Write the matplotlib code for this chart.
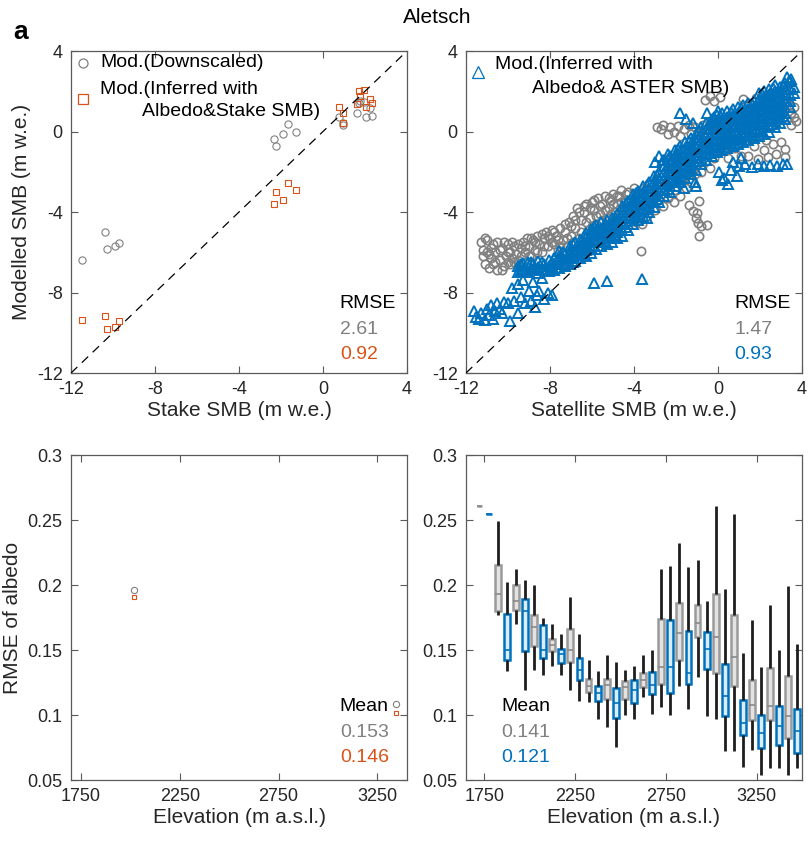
import matplotlib
matplotlib.use("Agg")
import matplotlib.pyplot as plt

plt.rcParams['font.family'] = ['Liberation Sans', 'DejaVu Sans']
plt.rcParams['axes.unicode_minus'] = False

GRAY = '#808080'
ORANGE = '#D95319'
BLUE = '#0072BD'
INK = '#262626'
FRAME = '#5a5a5a'

# ---- stake comparison (m w.e.) ----
stake_smb = [-11.48, -10.37, -10.28, -9.91, -9.71, -2.34, -2.24, -1.90, -1.66, -1.29,
             0.78, 0.93, 0.97, 1.60, 1.73, 1.78, 1.97, 2.05, 2.25, 2.33]
stake_down = [-6.37, -4.98, -5.86, -5.70, -5.55, -0.38, -0.72, -0.10, 0.38, -0.02,
              0.74, 0.34, 0.40, 0.94, 1.44, 1.50, 1.49, 0.71, 1.15, 0.79]
stake_inf = [-9.39, -9.15, -9.82, -9.72, -9.40, -3.61, -3.03, -3.40, -2.55, -2.93,
             1.20, 0.41, 0.91, 1.35, 2.03, 1.78, 2.05, 1.24, 1.62, 1.40]
stake_rmse = ['2.61', '0.92']

# ---- satellite comparison: downscaled model (x = ASTER SMB, y = modelled) ----
down_pts = [
    (-11.3, -5.5), (-11.2, -6.2), (-11.1, -6.6), (-11.0, -5.4), (-11.0, -6.0), (-10.9, -6.8),
    (-10.8, -6.3), (-10.7, -5.6), (-10.7, -6.6), (-10.6, -6.0), (-10.5, -6.9), (-10.5, -5.5),
    (-10.4, -6.4), (-10.3, -5.8), (-10.2, -6.7), (-10.1, -6.2), (-10.0, -5.6), (-10.0, -6.5),
    (-9.9, -6.0), (-9.8, -6.3), (-9.7, -5.7), (-9.6, -6.1), (-9.5, -6.4), (-9.4, -5.8),
    (-9.3, -5.5), (-9.2, -6.0), (-9.1, -5.3), (-9.0, -5.7), (-8.9, -6.2), (-8.8, -5.4),
    (-8.7, -5.9), (-8.6, -5.2), (-8.5, -5.6), (-8.4, -6.0), (-8.3, -5.3), (-8.2, -5.0),
    (-8.1, -5.7), (-8.0, -5.3), (-7.9, -4.9), (-7.8, -5.6), (-7.7, -5.2), (-7.6, -5.9),
    (-7.5, -4.8), (-7.4, -5.4), (-7.3, -5.0), (-7.2, -5.7), (-7.1, -4.5), (-7.0, -5.2),
    (-6.9, -4.2), (-6.8, -4.8), (-6.7, -3.8), (-6.6, -5.3), (-6.5, -4.4), (-6.4, -4.0),
    (-6.3, -3.6), (-6.2, -4.9), (-6.1, -4.3), (-6.0, -3.5), (-5.9, -3.9), (-5.8, -4.6),
    (-5.7, -3.3), (-5.6, -4.1), (-5.5, -3.6), (-5.4, -3.2), (-5.3, -4.3), (-5.2, -3.8),
    (-5.1, -3.4), (-5.0, -3.1), (-4.9, -4.0), (-4.8, -3.6), (-4.7, -3.2), (-4.6, -2.9),
    (-4.5, -3.8), (-4.4, -3.4), (-4.3, -3.0), (-4.2, -4.2), (-4.1, -3.6), (-4.0, -2.8),
    (-11.2, -5.9), (-11.1, -5.3), (-10.9, -6.1), (-10.8, -5.8), (-10.6, -6.5), (-10.4, -5.9),
    (-10.3, -6.9), (-10.2, -5.5), (-10.0, -6.0), (-9.9, -6.6), (-9.8, -5.5), (-9.7, -6.5),
    (-9.5, -5.6), (-9.4, -6.2), (-9.2, -5.7), (-9.0, -6.2), (-8.9, -5.3), (-8.7, -5.5),
    (-8.6, -6.0), (-8.4, -5.1), (-8.3, -5.7), (-8.1, -5.2), (-7.9, -5.5), (-7.8, -5.0),
    (-7.6, -5.4), (-7.5, -5.7), (-7.3, -4.6), (-7.2, -5.3), (-7.0, -4.7), (-6.9, -5.5),
    (-6.8, -4.4), (-6.6, -4.0), (-6.5, -5.0), (-6.4, -3.7), (-6.3, -4.5), (-6.1, -3.8),
    (-6.0, -4.7), (-5.9, -3.4), (-5.8, -4.2), (-5.6, -3.7), (-5.5, -4.4), (-5.4, -3.9),
    (-5.2, -3.3), (-5.1, -4.1), (-5.0, -3.6), (-4.8, -3.2), (-4.7, -4.2), (-4.6, -3.5),
    (-4.4, -3.1), (-4.2, -3.7),
    (-3.9, -4.5), (-3.8, -3.3), (-3.6, -4.6), (-3.5, -2.8), (-3.4, -4.2), (-3.2, -3.6),
    (-3.0, -3.9), (-2.9, -2.6), (-2.8, -3.4), (-2.6, -3.7), (-2.5, -2.9), (-2.4, -3.3),
    (-2.2, -2.5), (-2.1, -3.5), (-2.0, -2.9), (-1.8, -3.2), (-1.7, -2.4), (-1.5, -2.8),
    (-1.4, -1.9), (-1.3, -2.5), (-1.1, -2.1), (-1.0, -1.6), (-0.8, -2.0), (-0.6, -1.5),
    (-0.4, -1.8), (-0.2, -1.3), (-2.4, -1.4), (-2.1, -1.8), (-1.8, -1.5), (-1.5, -2.1),
    (-2.9, 0.2), (-2.7, 0.1), (-2.6, 0.3), (-2.4, -0.1), (-2.3, 0.2), (-2.1, 0.0),
    (-1.9, 0.25), (-1.8, -0.2), (-1.6, 0.1), (-1.4, 0.3), (-1.3, -0.1), (-1.1, 0.2),
    (-0.9, 0.0), (-0.7, 0.3), (-0.5, -0.2), (-0.3, 0.1), (-0.1, 0.3), (0.1, -0.1),
    (0.3, 0.2), (0.5, 0.0), (0.7, 0.3), (0.9, -0.2), (1.1, 0.1), (1.3, 0.2),
    (-0.6, 1.55), (-0.4, 1.75), (-0.2, 1.5), (0.1, 1.7), (1.2, 1.6), (1.5, 1.4),
    (1.8, 1.65), (2.1, 1.5), (2.4, 1.7), (2.6, 1.35), (2.9, 1.6), (3.2, 1.45),
    (3.4, 1.3), (3.5, 0.9), (3.6, 1.2), (3.3, 0.6), (3.7, 0.5), (3.5, 0.3),
    (3.0, 0.8), (3.6, 0.7), (0.2, -0.9), (0.5, -1.3), (0.8, -0.8), (1.1, -1.2),
    (1.44, -1.2), (1.7, -0.7), (1.92, -1.37), (2.2, -0.9), (2.4, -1.29), (2.6, -0.6),
    (2.78, -1.12), (3.0, -0.5), (3.2, -0.87), (3.2, -1.29), (2.3, -0.4), (1.5, -0.3),
    (-1.38, -3.67), (-0.9, -3.43), (-1.05, -4.3), (-0.8, -4.7), (-0.52, -4.66), (-0.9, -5.2),
    (-3.67, -5.95), (-1.2, -3.95), (-1.0, -4.05), (-0.95, -4.55),
    (0.5, 0.6), (1.0, 0.8), (2.0, 1.0), (2.5, 1.9), (3.0, 2.0), (-0.5, -0.6),
]

# ---- satellite comparison: albedo & ASTER inferred model ----
# main band, one entry per ASTER SMB value with the modelled values seen there
aster_band = [
    (-9.5, [-7.0, -6.7]), (-9.3, [-6.85, -6.55]), (-9.05, [-7.0, -6.75, -6.5]),
    (-8.8, [-6.9, -6.6]), (-8.55, [-7.05, -6.75, -6.45]), (-8.3, [-6.9, -6.6]),
    (-8.05, [-6.95, -6.7, -6.4]), (-7.8, [-6.9, -6.6, -6.3]),
    (-7.55, [-6.8, -6.5, -6.2, -5.95]), (-7.3, [-6.7, -6.4, -6.1]),
    (-7.05, [-6.6, -6.3, -6.0, -5.7]), (-6.8, [-6.45, -6.15, -5.85, -5.5]),
    (-6.55, [-6.3, -6.0, -5.7, -5.4]), (-6.3, [-6.2, -5.9, -5.6, -5.3, -5.05]),
    (-6.05, [-6.05, -5.75, -5.45, -5.1, -4.85]), (-5.8, [-5.85, -5.5, -5.2, -4.9, -4.65]),
    (-5.55, [-5.7, -5.4, -5.1, -4.8, -4.5]), (-5.3, [-5.6, -5.3, -5.0, -4.7, -4.4]),
    (-5.05, [-5.5, -5.2, -4.9, -4.6, -4.3]), (-4.8, [-5.3, -5.0, -4.7, -4.4, -4.1]),
    (-4.55, [-5.2, -4.9, -4.6, -4.3, -4.0, -3.7]), (-4.3, [-4.9, -4.6, -4.3, -4.0, -3.7, -3.45]),
    (-4.05, [-4.6, -4.3, -4.0, -3.7, -3.4, -3.1]), (-3.8, [-4.4, -4.1, -3.8, -3.5, -3.2, -2.95]),
    (-3.55, [-4.2, -3.9, -3.6, -3.3, -3.0, -2.7]), (-3.3, [-4.0, -3.7, -3.4, -3.1, -2.8, -2.5]),
    (-3.05, [-3.75, -3.45, -3.1, -2.8, -2.5, -2.2]), (-2.8, [-3.5, -3.2, -2.9, -2.6, -2.3, -2.0]),
    (-2.55, [-3.2, -2.9, -2.6, -2.3, -2.0, -1.7, -1.4]),
    (-2.3, [-3.0, -2.7, -2.4, -2.1, -1.8, -1.5, -1.2]),
    (-2.05, [-2.7, -2.4, -2.1, -1.8, -1.5, -1.2, -0.9]),
    (-1.8, [-2.5, -2.2, -1.9, -1.6, -1.3, -1.0, -0.7]),
    (-1.55, [-2.3, -2.0, -1.7, -1.4, -1.1, -0.8, -0.5]),
    (-1.3, [-2.1, -1.8, -1.5, -1.2, -0.9, -0.6, -0.3]),
    (-1.05, [-1.9, -1.6, -1.3, -1.0, -0.7, -0.4, -0.1]),
    (-0.8, [-1.6, -1.3, -1.0, -0.7, -0.4, -0.1, 0.2]),
    (-0.55, [-1.4, -1.1, -0.8, -0.5, -0.2, 0.1, 0.4]),
    (-0.3, [-1.2, -0.9, -0.6, -0.3, 0.0, 0.3, 0.6]),
    (-0.05, [-1.0, -0.7, -0.4, -0.1, 0.2, 0.5, 0.8]),
    (0.2, [-0.9, -0.6, -0.3, 0.0, 0.3, 0.6, 0.9]),
    (0.45, [-0.8, -0.5, -0.2, 0.1, 0.4, 0.7, 1.0]),
    (0.7, [-0.7, -0.4, -0.1, 0.2, 0.5, 0.8, 1.1]),
    (0.95, [-0.6, -0.3, 0.0, 0.3, 0.6, 0.9, 1.2]),
    (1.2, [-0.5, -0.2, 0.1, 0.4, 0.7, 1.0, 1.3]),
    (1.45, [-0.4, -0.1, 0.2, 0.5, 0.8, 1.1, 1.4]),
    (1.7, [-0.3, 0.0, 0.3, 0.6, 0.9, 1.2, 1.5]),
    (1.95, [-0.2, 0.1, 0.4, 0.7, 1.0, 1.3, 1.6, 1.9]),
    (2.2, [-0.1, 0.2, 0.5, 0.8, 1.1, 1.4, 1.7, 2.0]),
    (2.45, [0.0, 0.3, 0.6, 0.9, 1.2, 1.5, 1.8, 2.1]),
    (2.7, [0.2, 0.5, 0.8, 1.1, 1.4, 1.7, 2.0, 2.3]),
    (2.95, [0.4, 0.7, 1.0, 1.3, 1.6, 1.9, 2.2]),
    (3.2, [0.6, 0.9, 1.2, 1.5, 1.8, 2.1, 2.4]),
    (3.45, [1.2, 1.5, 1.8, 2.1, 2.5]),
    # second pass, filling between the first one
    (-9.4, [-6.9, -6.6]), (-8.9, [-6.8, -6.5]), (-8.4, [-6.85, -6.5]),
    (-7.9, [-6.8, -6.5]), (-7.4, [-6.6, -6.3, -6.0]), (-6.9, [-6.5, -6.2, -5.9, -5.6]),
    (-6.4, [-6.1, -5.8, -5.5, -5.2]), (-5.9, [-5.7, -5.4, -5.0, -4.75]),
    (-5.4, [-5.5, -5.2, -4.9, -4.6]), (-4.9, [-5.15, -4.85, -4.55, -4.25]),
    (-4.4, [-4.75, -4.45, -4.15, -3.85, -3.55]), (-3.9, [-4.25, -3.95, -3.65, -3.35, -3.05]),
    (-3.4, [-3.85, -3.55, -3.25, -2.95, -2.65]), (-2.9, [-3.35, -3.05, -2.75, -2.45, -2.15]),
    (-2.4, [-2.85, -2.55, -2.25, -1.95, -1.65, -1.35]), (-1.9, [-2.35, -2.05, -1.75, -1.45, -1.15, -0.85]),
    (-1.4, [-1.95, -1.65, -1.35, -1.05, -0.75, -0.45]), (-0.9, [-1.45, -1.15, -0.85, -0.55, -0.25, 0.05]),
    (-0.4, [-1.05, -0.75, -0.45, -0.15, 0.15, 0.45]), (0.1, [-0.75, -0.45, -0.15, 0.15, 0.45, 0.75]),
    (0.6, [-0.55, -0.25, 0.05, 0.35, 0.65, 0.95]), (1.1, [-0.35, -0.05, 0.25, 0.55, 0.85, 1.15]),
    (1.6, [-0.15, 0.15, 0.45, 0.75, 1.05, 1.35]), (2.1, [0.05, 0.35, 0.65, 0.95, 1.25, 1.55, 1.85]),
    (2.6, [0.35, 0.65, 0.95, 1.25, 1.55, 1.85, 2.15]), (3.1, [0.75, 1.05, 1.35, 1.65, 1.95, 2.25]),
]
aster_scatter = [
    (-11.6, -8.9), (-11.5, -9.2), (-11.4, -9.3), (-11.3, -9.0), (-11.1, -9.35), (-11.0, -8.8),
    (-10.9, -9.1), (-10.8, -8.6), (-10.7, -9.3), (-10.6, -8.9), (-10.5, -8.5), (-10.4, -8.8),
    (-10.3, -9.0), (-10.2, -8.45), (-10.0, -8.5), (-9.9, -9.4), (-9.8, -7.8), (-9.7, -8.4),
    (-9.5, -9.0), (-9.4, -8.2), (-9.3, -7.4), (-9.2, -8.5), (-9.0, -7.9), (-8.9, -8.4),
    (-8.8, -7.5), (-8.7, -8.7), (-8.6, -8.1), (-8.5, -7.9), (-8.3, -8.3), (-8.1, -8.0),
    (-7.9, -8.1), (-9.5, -7.6), (-9.1, -7.0), (-8.4, -7.3),
    (-5.9, -7.53), (-5.3, -7.43), (-3.6, -7.34), (-3.38, -4.32), (-1.6, -2.83), (-1.05, -2.73),
    (-1.1, -2.5), (0.05, -2.0), (0.3, -2.3), (0.5, -2.6), (0.2, -2.4),
    (0.7, -1.5), (1.0, -1.7), (1.3, -1.6), (1.6, -1.75), (1.9, -1.6), (2.2, -1.7),
    (2.5, -1.65), (2.8, -1.7), (3.1, -1.6), (3.3, -1.6), (1.1, -1.3), (0.6, -1.9), (0.9, -2.2),
    (-3.0, -1.5), (-2.8, -1.2), (-2.6, -1.4), (-2.4, -1.1),
    (-1.8, 0.9), (-1.5, 0.6), (-1.2, 0.4), (-0.5, 0.9), (-0.2, 0.7), (0.0, 1.0),
    (3.3, 2.7), (3.5, 2.6), (3.4, 2.5), (3.6, 2.2), (3.6, 1.9),
]
sat_rmse = ['1.47', '0.93']

# ---- albedo RMSE by elevation band ----
stake_elev = [2020]
stake_alb_down = [0.196]
stake_alb_inf = [0.191]
stake_alb_mean = ['0.153', '0.146']

band_elev = [1750, 1850, 1950, 2050, 2150, 2250, 2350, 2450, 2550,
             2650, 2750, 2850, 2950, 3050, 3150, 3250, 3350, 3450]
# whisker low, q1, median, q3, whisker high
down_lo = [0.261, 0.177, 0.170, 0.135, 0.138, 0.119, 0.110, 0.091, 0.100,
           0.114, 0.106, 0.122, 0.129, 0.097, 0.072, 0.073, 0.059, 0.054]
down_q1 = [0.261, 0.180, 0.181, 0.153, 0.149, 0.141, 0.118, 0.112, 0.112,
           0.1215, 0.124, 0.142, 0.160, 0.1325, 0.122, 0.096, 0.096, 0.082]
down_med = [0.261, 0.193, 0.188, 0.168, 0.154, 0.150, 0.122, 0.123, 0.1215,
            0.1266, 0.137, 0.163, 0.171, 0.160, 0.145, 0.108, 0.107, 0.099]
down_q3 = [0.261, 0.2155, 0.200, 0.177, 0.1585, 0.166, 0.128, 0.128, 0.126,
           0.132, 0.174, 0.186, 0.185, 0.193, 0.177, 0.127, 0.136, 0.130]
down_hi = [0.261, 0.249, 0.212, 0.200, 0.170, 0.191, 0.142, 0.146, 0.135,
           0.146, 0.212, 0.232, 0.219, 0.2605, 0.255, 0.173, 0.185, 0.199]

aster_lo = [0.255, 0.134, 0.119, 0.131, 0.131, 0.111, 0.097, 0.0755, 0.097,
            0.101, 0.100, 0.105, 0.099, 0.072, 0.060, 0.054, 0.059, 0.059]
aster_q1 = [0.255, 0.142, 0.149, 0.144, 0.140, 0.127, 0.111, 0.098, 0.109,
            0.116, 0.117, 0.124, 0.1355, 0.099, 0.085, 0.075, 0.077, 0.071]
aster_med = [0.255, 0.150, 0.180, 0.150, 0.147, 0.135, 0.117, 0.109, 0.119,
             0.123, 0.137, 0.132, 0.151, 0.115, 0.094, 0.086, 0.0915, 0.088]
aster_q3 = [0.255, 0.178, 0.189, 0.169, 0.151, 0.144, 0.122, 0.121, 0.127,
            0.133, 0.173, 0.165, 0.164, 0.139, 0.1115, 0.100, 0.107, 0.105]
aster_hi = [0.255, 0.202, 0.204, 0.175, 0.162, 0.162, 0.134, 0.141, 0.138,
            0.150, 0.215, 0.214, 0.188, 0.197, 0.148, 0.137, 0.150, 0.155]
band_alb_mean = ['0.141', '0.121']


def style_axes(ax):
    ax.tick_params(direction='in', top=True, right=True, length=5, width=0.8,
                   color=FRAME, labelcolor=INK, labelsize=13, pad=6)
    for sp in ax.spines.values():
        sp.set_color(FRAME)
        sp.set_linewidth(0.9)


def smb_axes(ax):
    ax.set_xlim(-12, 4)
    ax.set_ylim(-12, 4)
    ax.set_xticks([-12, -8, -4, 0, 4])
    ax.set_yticks([-12, -8, -4, 0, 4])
    ax.axline((0, 0), slope=1, color='k', lw=0.9, ls=(0, (7, 5)), zorder=5)
    style_axes(ax)


def rmse_text(ax, values, second):
    ax.text(0.80, 0.217, 'RMSE', transform=ax.transAxes, fontsize=14, color='k', va='center')
    ax.text(0.80, 0.134, values[0], transform=ax.transAxes, fontsize=14, color=GRAY, va='center')
    ax.text(0.80, 0.056, values[1], transform=ax.transAxes, fontsize=14, color=second, va='center')


def mean_text(ax, x, values, second):
    ax.text(x, 0.225, 'Mean', transform=ax.transAxes, fontsize=14, color='k', va='center')
    ax.text(x, 0.145, values[0], transform=ax.transAxes, fontsize=14, color=GRAY, va='center')
    ax.text(x, 0.068, values[1], transform=ax.transAxes, fontsize=14, color=second, va='center')


def albedo_axes(ax, xlim):
    ax.set_xlim(*xlim)
    ax.set_ylim(0.05, 0.3)
    ax.set_xticks([1750, 2250, 2750, 3250])
    ax.set_yticks([0.05, 0.1, 0.15, 0.2, 0.25, 0.3])
    ax.set_yticklabels(['0.05', '0.1', '0.15', '0.2', '0.25', '0.3'])
    ax.set_xlabel('Elevation (m a.s.l.)', fontsize=15, color=INK, labelpad=2)
    style_axes(ax)


def box_stats(lo, q1, med, q3, hi):
    return [dict(whislo=a, q1=b, med=c, q3=d, whishi=e)
            for a, b, c, d, e in zip(lo, q1, med, q3, hi)]


fig = plt.figure(figsize=(8.08, 8.43), dpi=100)
ax_tl = fig.add_axes([0.0879, 0.5575, 0.4158, 0.3820])
ax_tr = fig.add_axes([0.5767, 0.5575, 0.4158, 0.3820])
ax_bl = fig.add_axes([0.0879, 0.0747, 0.4158, 0.3855])
ax_br = fig.add_axes([0.5767, 0.0747, 0.4158, 0.3855])

fig.text(0.541, 0.979, 'Aletsch', ha='center', va='center', fontsize=15, color='k')
fig.text(0.026, 0.962, 'a', ha='center', va='center', fontsize=19, fontweight='bold', color='k')

# top left: stakes
ax_tl.plot(stake_smb, stake_down, 'o', mfc='none', mec=GRAY, ms=5.2, mew=0.8, zorder=3)
ax_tl.plot(stake_smb, stake_inf, 's', mfc='none', mec=ORANGE, ms=3.8, mew=0.8, zorder=4)
smb_axes(ax_tl)
ax_tl.set_xlabel('Stake SMB (m w.e.)', fontsize=15, color=INK, labelpad=2)
ax_tl.set_ylabel('Modelled SMB (m w.e.)', fontsize=15, color=INK, labelpad=4)
ax_tl.plot([0.035], [0.963], 'o', mfc='none', mec=GRAY, ms=6.5, mew=0.9, transform=ax_tl.transAxes)
ax_tl.text(0.086, 0.963, 'Mod.(Downscaled)', transform=ax_tl.transAxes, fontsize=14, va='center')
ax_tl.plot([0.035], [0.851], 's', mfc='none', mec=ORANGE, ms=7, mew=0.9, transform=ax_tl.transAxes)
ax_tl.text(0.086, 0.882, 'Mod.(Inferred with', transform=ax_tl.transAxes, fontsize=14, va='center')
ax_tl.text(0.211, 0.811, 'Albedo&Stake SMB)', transform=ax_tl.transAxes, fontsize=14, va='center')
rmse_text(ax_tl, stake_rmse, ORANGE)

# top right: satellite
ax_tr.plot([p[0] for p in down_pts], [p[1] for p in down_pts], 'o', mfc='none', mec=GRAY,
           ms=6.0, mew=1.2, zorder=3)
band_x = [x for x, ys in aster_band for _ in ys]
band_y = [y for _, ys in aster_band for y in ys]
ax_tr.plot(band_x + [p[0] for p in aster_scatter], band_y + [p[1] for p in aster_scatter], '^',
           mfc='none', mec=BLUE, ms=7.0, mew=1.4, zorder=4)
smb_axes(ax_tr)
ax_tr.set_xlabel('Satellite SMB (m w.e.)', fontsize=15, color=INK, labelpad=2)
ax_tr.plot([0.036], [0.935], '^', mfc='none', mec=BLUE, ms=9, mew=0.9, transform=ax_tr.transAxes)
ax_tr.text(0.086, 0.957, 'Mod.(Inferred with', transform=ax_tr.transAxes, fontsize=14, va='center')
ax_tr.text(0.196, 0.885, 'Albedo& ASTER SMB)', transform=ax_tr.transAxes, fontsize=14, va='center')
rmse_text(ax_tr, sat_rmse, BLUE)

# bottom left: albedo at stakes
ax_bl.plot(stake_elev, stake_alb_down, 'o', mfc='none', mec=GRAY, ms=4.5, mew=0.8)
ax_bl.plot(stake_elev, stake_alb_inf, 's', mfc='none', mec=ORANGE, ms=3.5, mew=0.8)
albedo_axes(ax_bl, (1700, 3400))
ax_bl.set_ylabel('RMSE of albedo', fontsize=15, color=INK, labelpad=4)
mean_text(ax_bl, 0.80, stake_alb_mean, ORANGE)
ax_bl.plot([0.967], [0.234], 'o', mfc='none', mec=GRAY, ms=4.5, mew=0.8, transform=ax_bl.transAxes)
ax_bl.plot([0.967], [0.206], 's', mfc='none', mec=ORANGE, ms=3.5, mew=0.8, transform=ax_bl.transAxes)

# bottom right: albedo by elevation band
whisk = dict(color='#1e1e1e', lw=2.0, solid_capstyle='butt')
ax_br.bxp(box_stats(down_lo, down_q1, down_med, down_q3, down_hi),
          positions=[e - 25 for e in band_elev], widths=32, patch_artist=True,
          showcaps=False, showfliers=False, manage_ticks=False,
          boxprops=dict(facecolor='#e3e3e3', edgecolor='#9a9a9a', lw=1.8),
          medianprops=dict(color='#8a8a8a', lw=1.2),
          whiskerprops=whisk)
ax_br.bxp(box_stats(aster_lo, aster_q1, aster_med, aster_q3, aster_hi),
          positions=[e + 25 for e in band_elev], widths=32, patch_artist=True,
          showcaps=False, showfliers=False, manage_ticks=False,
          boxprops=dict(facecolor='#dcedf9', edgecolor=BLUE, lw=1.8),
          medianprops=dict(color=BLUE, lw=1.2),
          whiskerprops=whisk)
albedo_axes(ax_br, (1650, 3500))
mean_text(ax_br, 0.104, band_alb_mean, BLUE)

fig.savefig('out.png', dpi=100)
